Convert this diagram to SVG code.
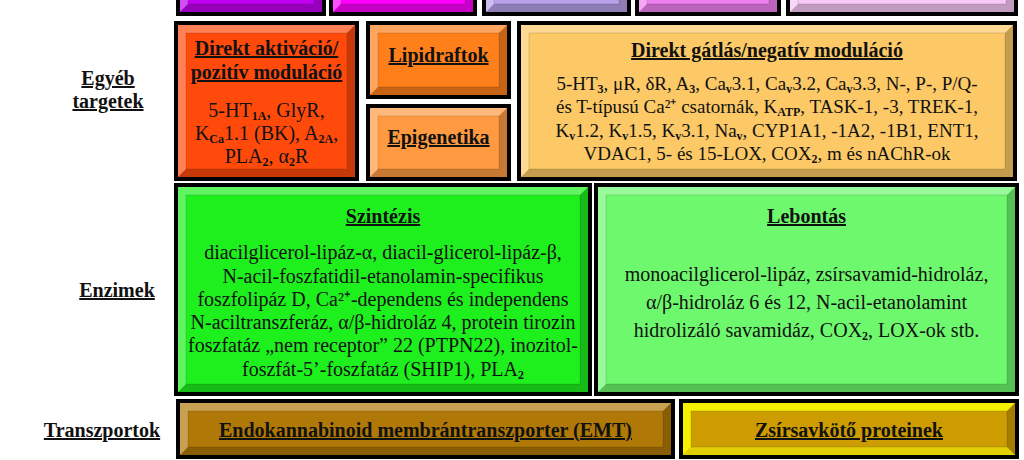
<svg xmlns="http://www.w3.org/2000/svg" width="1024" height="460" viewBox="0 0 1024 460">
<style>
.box{stroke:#000;stroke-width:4}
.hi{fill:#fff;fill-opacity:.3}
.lo{fill:#000;fill-opacity:.22}
.in{fill:none;stroke:#000;stroke-opacity:.13;stroke-width:1}
text{font-family:"Liberation Serif","Times New Roman",serif;font-size:20px;fill:#111;text-anchor:middle}
.t{font-weight:bold;text-decoration:underline}
.sb{font-size:12px;font-weight:bold}
.s19{font-size:19px}
</style>
<rect width="1024" height="460" fill="#fff"/>

<g id="top-row">
<g id="top1"><rect class="box" x="178" y="-18" width="146" height="32" fill="#C000F0"/><polygon class="hi" points="180,-16 322,-16 314,-8 188,-8 188,4 180,12"/><polygon class="lo" points="322,-16 322,12 180,12 188,4 314,4 314,-8"/><rect class="in" x="188" y="-8" width="126" height="12"/></g>
<g id="top2"><rect class="box" x="331" y="-18" width="144" height="32" fill="#FF00FF"/><polygon class="hi" points="333,-16 473,-16 465,-8 341,-8 341,4 333,12"/><polygon class="lo" points="473,-16 473,12 333,12 341,4 465,4 465,-8"/><rect class="in" x="341" y="-8" width="124" height="12"/></g>
<g id="top3"><rect class="box" x="484" y="-18" width="145" height="32" fill="#B8A0EA"/><polygon class="hi" points="486,-16 627,-16 619,-8 494,-8 494,4 486,12"/><polygon class="lo" points="627,-16 627,12 486,12 494,4 619,4 619,-8"/><rect class="in" x="494" y="-8" width="125" height="12"/></g>
<g id="top4"><rect class="box" x="637" y="-18" width="142" height="32" fill="#F080F0"/><polygon class="hi" points="639,-16 777,-16 769,-8 647,-8 647,4 639,12"/><polygon class="lo" points="777,-16 777,12 639,12 647,4 769,4 769,-8"/><rect class="in" x="647" y="-8" width="122" height="12"/></g>
<g id="top5"><rect class="box" x="788" y="-18" width="228" height="32" fill="#F8C8F6"/><polygon class="hi" points="790,-16 1014,-16 1006,-8 798,-8 798,4 790,12"/><polygon class="lo" points="1014,-16 1014,12 790,12 798,4 1006,4 1006,-8"/><rect class="in" x="798" y="-8" width="208" height="12"/></g>
</g>

<g id="label-egyeb"><text class="t" x="108" y="85">Egyéb</text><text class="t" x="108" y="108">targetek</text></g>
<g id="label-enzimek"><text class="t" x="117" y="297">Enzimek</text></g>
<g id="label-transzportok"><text class="t" x="102" y="437">Transzportok</text></g>

<g id="aktivacio">
<rect class="box" x="176" y="23" width="181" height="156" fill="#FF4A0C"/>
<polygon class="hi" points="178,25 355,25 347,33 186,33 186,169 178,177"/>
<polygon class="lo" points="355,25 355,177 178,177 186,169 347,169 347,33"/>
<rect class="in" x="186" y="33" width="161" height="136"/>
<text class="t" x="266.5" y="55">Direkt aktiváció/</text>
<text class="t" x="266.5" y="79">pozitív moduláció</text>
<text x="266.5" y="117">5-HT<tspan class="sb" dy="3">1A</tspan><tspan dy="-3">, GlyR,</tspan></text>
<text x="266.5" y="140">K<tspan class="sb" dy="3">Ca</tspan><tspan dy="-3">1.1 (BK), A</tspan><tspan class="sb" dy="3">2A</tspan><tspan dy="-3">,</tspan></text>
<text x="266.5" y="163">PLA<tspan class="sb" dy="3">2</tspan><tspan dy="-3">, α</tspan><tspan class="sb" dy="3">2</tspan><tspan dy="-3">R</tspan></text>
</g>

<g id="lipidraftok">
<rect class="box" x="368" y="23" width="141" height="74" fill="#FF7F1A"/>
<polygon class="hi" points="370,25 507,25 499,33 378,33 378,87 370,95"/>
<polygon class="lo" points="507,25 507,95 370,95 378,87 499,87 499,33"/>
<rect class="in" x="378" y="33" width="121" height="54"/>
<text class="t" x="438.5" y="62">Lipidraftok</text>
</g>

<g id="epigenetika">
<rect class="box" x="368" y="106" width="141" height="73" fill="#FF9A40"/>
<polygon class="hi" points="370,108 507,108 499,116 378,116 378,169 370,177"/>
<polygon class="lo" points="507,108 507,177 370,177 378,169 499,169 499,116"/>
<rect class="in" x="378" y="116" width="121" height="53"/>
<text class="t" x="438.5" y="144">Epigenetika</text>
</g>

<g id="gatlas">
<rect class="box" x="519" y="23" width="496" height="156" fill="#FCC966"/>
<polygon class="hi" points="521,25 1013,25 1005,33 529,33 529,169 521,177"/>
<polygon class="lo" points="1013,25 1013,177 521,177 529,169 1005,169 1005,33"/>
<rect class="in" x="529" y="33" width="476" height="136"/>
<text class="t" x="767" y="57">Direkt gátlás/negatív moduláció</text>
<text class="s19" x="767" y="90">5-HT<tspan class="sb" dy="3">3</tspan><tspan dy="-3">, μR, δR, A</tspan><tspan class="sb" dy="3">3</tspan><tspan dy="-3">, Ca</tspan><tspan class="sb" dy="3">v</tspan><tspan dy="-3">3.1, Ca</tspan><tspan class="sb" dy="3">v</tspan><tspan dy="-3">3.2, Ca</tspan><tspan class="sb" dy="3">v</tspan><tspan dy="-3">3.3, N-, P-, P/Q-</tspan></text>
<text class="s19" x="767" y="113">és T-típusú Ca²⁺ csatornák, K<tspan class="sb" dy="3">ATP</tspan><tspan dy="-3">, TASK-1, -3, TREK-1,</tspan></text>
<text class="s19" x="767" y="137">K<tspan class="sb" dy="3">v</tspan><tspan dy="-3">1.2, K</tspan><tspan class="sb" dy="3">v</tspan><tspan dy="-3">1.5, K</tspan><tspan class="sb" dy="3">v</tspan><tspan dy="-3">3.1, Na</tspan><tspan class="sb" dy="3">v</tspan><tspan dy="-3">, CYP1A1, -1A2, -1B1, ENT1,</tspan></text>
<text class="s19" x="767" y="160">VDAC1, 5- és 15-LOX, COX<tspan class="sb" dy="3">2</tspan><tspan dy="-3">, m és nAChR-ok</tspan></text>
</g>

<g id="szintezis">
<rect class="box" x="176" y="185" width="414" height="209" fill="#1EF01E"/>
<polygon class="hi" points="178,187 588,187 580,195 186,195 186,384 178,392"/>
<polygon class="lo" points="588,187 588,392 178,392 186,384 580,384 580,195"/>
<rect class="in" x="186" y="195" width="394" height="189"/>
<text class="t" x="383" y="223">Szintézis</text>
<text x="383" y="259">diacilglicerol-lipáz-α, diacil-glicerol-lipáz-β,</text>
<text x="383" y="283">N-acil-foszfatidil-etanolamin-specifikus</text>
<text x="383" y="306">foszfolipáz D, Ca²⁺-dependens és independens</text>
<text x="383" y="329">N-aciltranszferáz, α/β-hidroláz 4, protein tirozin</text>
<text x="383" y="352">foszfatáz „nem receptor” 22 (PTPN22), inozitol-</text>
<text x="383" y="376">foszfát-5’-foszfatáz (SHIP1), PLA<tspan class="sb" dy="3">2</tspan></text>
</g>

<g id="lebontas">
<rect class="box" x="596" y="185" width="421" height="209" fill="#6EF86E"/>
<polygon class="hi" points="598,187 1015,187 1007,195 606,195 606,384 598,392"/>
<polygon class="lo" points="1015,187 1015,392 598,392 606,384 1007,384 1007,195"/>
<rect class="in" x="606" y="195" width="401" height="189"/>
<text class="t" x="806.5" y="223">Lebontás</text>
<text x="806.5" y="281">monoacilglicerol-lipáz, zsírsavamid-hidroláz,</text>
<text x="806.5" y="309">α/β-hidroláz 6 és 12, N-acil-etanolamint</text>
<text x="806.5" y="337">hidrolizáló savamidáz, COX<tspan class="sb" dy="3">2</tspan><tspan dy="-3">, LOX-ok stb.</tspan></text>
</g>

<g id="emt">
<rect class="box" x="178" y="401" width="495" height="56" fill="#B07806"/>
<polygon class="hi" points="180,403 671,403 663,411 188,411 188,447 180,455"/>
<polygon class="lo" points="671,403 671,455 180,455 188,447 663,447 663,411"/>
<rect class="in" x="188" y="411" width="475" height="36"/>
<text class="t" x="425.5" y="437">Endokannabinoid membrántranszporter (EMT)</text>
</g>

<g id="zsirsavkoto">
<rect class="box" x="681" y="401" width="336" height="56" fill="#CC9C00"/>
<polygon fill="#F4F000" points="683,403 1015,403 1007,411 691,411 691,447 683,455"/>
<polygon fill="#E0D000" points="683,455 1015,455 1007,447 691,447"/>
<polygon fill="#000" fill-opacity=".2" points="1015,403 1015,455 1007,447 1007,411"/>
<rect class="in" x="691" y="411" width="316" height="36"/>
<text class="t" x="849" y="437">Zsírsavkötő proteinek</text>
</g>
</svg>
